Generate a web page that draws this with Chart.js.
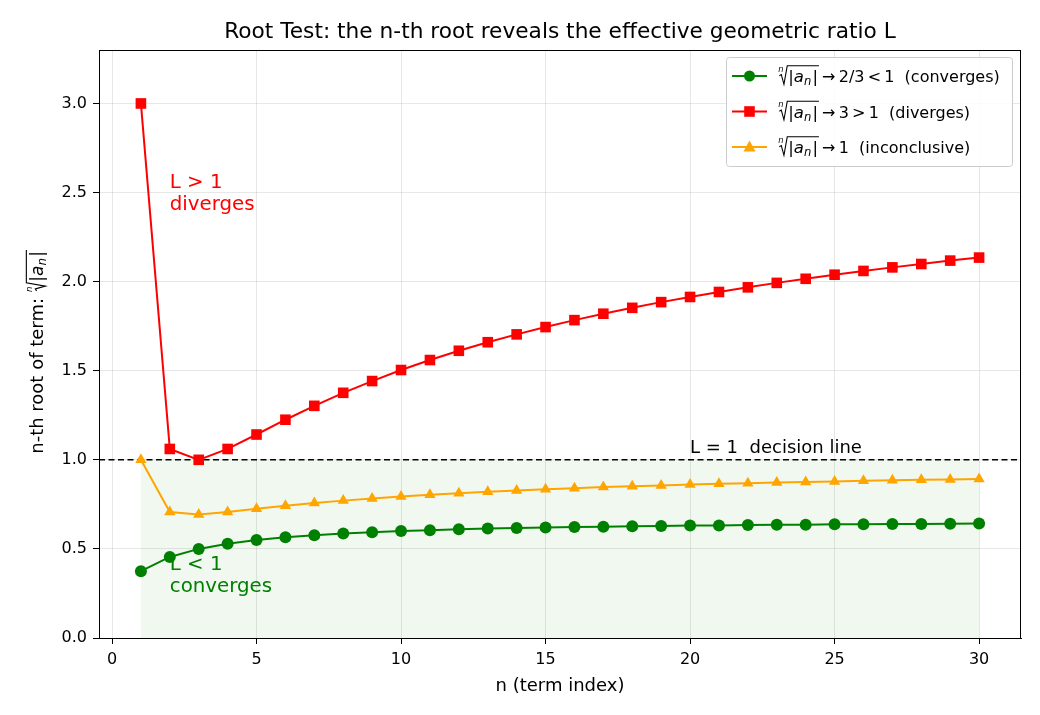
<!DOCTYPE html>
<html>
<head>
<meta charset="utf-8">
<script src="https://cdn.jsdelivr.net/npm/chart.js@4.4.1/dist/chart.umd.min.js"></script>
<style>
html,body{margin:0;padding:0;background:#fff;}
canvas{display:block;}
</style>
</head>
<body>
<canvas id="c" width="1040" height="715"></canvas>
<script>
// ---- data ----
const nTerms = [1,2,3,4,5,6,7,8,9,10,11,12,13,14,15,16,17,18,19,20,21,22,23,24,25,26,27,28,29,30];
const convergesVals = [0.375,0.455,0.500,0.529,0.550,0.565,0.577,0.586,0.594,0.600,0.605,0.610,0.614,0.617,0.620,0.623,0.625,0.627,0.629,0.631,0.632,0.634,0.635,0.636,0.638,0.639,0.640,0.640,0.641,0.642];
const divergesVals = [3.000,1.061,1.000,1.061,1.142,1.225,1.303,1.376,1.442,1.504,1.560,1.612,1.660,1.704,1.745,1.784,1.820,1.853,1.885,1.914,1.942,1.968,1.993,2.016,2.039,2.060,2.080,2.099,2.118,2.135];
const inconclusiveVals = [1.000,0.707,0.693,0.707,0.725,0.742,0.757,0.771,0.783,0.794,0.804,0.813,0.821,0.828,0.835,0.841,0.847,0.852,0.856,0.861,0.865,0.869,0.873,0.876,0.879,0.882,0.885,0.888,0.890,0.893];
const decisionLevel = 1;
const xTickVals = [0,5,10,15,20,25,30];
const yTickVals = [0,0.5,1.0,1.5,2.0,2.5,3.0];
const legendSuffix = ['\u2009\u2192\u20092/3\u2009<\u20091  (converges)', '\u2009\u2192\u20093\u2009>\u20091  (diverges)', '\u2009\u2192\u20091  (inconclusive)'];

const GREEN = '#008000', RED = '#ff0000', ORANGE = '#ffa500';
const FONT = '"DejaVu Sans", sans-serif';

const toXY = arr => nTerms.map((x,i)=>({x, y: arr[i]}));

// draws "n-th root of |a_n|" at baseline (x,y), returns width
function drawRoot(ctx, x, y, fs, color){
  ctx.save();
  ctx.fillStyle = color; ctx.strokeStyle = color;
  ctx.textBaseline = 'alphabetic'; ctx.textAlign = 'left';
  ctx.font = 'italic ' + (fs*0.5) + 'px ' + FONT;
  ctx.fillText('n', x + fs*0.02, y - fs*0.62);
  ctx.font = fs + 'px ' + FONT;
  const wBar = ctx.measureText('|').width;
  ctx.font = 'italic ' + fs + 'px ' + FONT;
  const wA = ctx.measureText('a').width;
  ctx.font = 'italic ' + (fs*0.7) + 'px ' + FONT;
  const wN = ctx.measureText('n').width;
  const cx = x + fs*0.62;
  const contentW = wBar + wA + wN + wBar + fs*0.08;
  ctx.lineWidth = Math.max(1, fs*0.065);
  ctx.beginPath();
  ctx.moveTo(x + fs*0.08, y - fs*0.38);
  ctx.lineTo(x + fs*0.2, y - fs*0.45);
  ctx.lineTo(x + fs*0.36, y + fs*0.14);
  ctx.lineTo(x + fs*0.56, y - fs*0.98);
  ctx.lineTo(cx + contentW + fs*0.05, y - fs*0.98);
  ctx.stroke();
  let px = cx;
  ctx.font = fs + 'px ' + FONT;
  ctx.fillText('|', px, y); px += wBar;
  ctx.font = 'italic ' + fs + 'px ' + FONT;
  ctx.fillText('a', px, y); px += wA;
  ctx.font = 'italic ' + (fs*0.7) + 'px ' + FONT;
  ctx.fillText('n', px, y + fs*0.2); px += wN + fs*0.08;
  ctx.font = fs + 'px ' + FONT;
  ctx.fillText('|', px, y); px += wBar;
  ctx.restore();
  return px - x + fs*0.05;
}

function drawMarker(ctx, style, x, y, color){
  ctx.save();
  ctx.fillStyle = color;
  ctx.beginPath();
  if(style==='circle'){ ctx.arc(x,y,5.5,0,Math.PI*2); }
  else if(style==='rect'){ ctx.rect(x-5.3,y-5.3,10.6,10.6); }
  else { ctx.moveTo(x, y-6.5); ctx.lineTo(x+6,y+4.5); ctx.lineTo(x-6,y+4.5); ctx.closePath(); }
  ctx.fill();
  ctx.restore();
}

const decoPlugin = {
  id: 'deco',
  beforeDatasetsDraw(chart){
    const {ctx, chartArea:a, scales:{x,y}} = chart;
    const yy = y.getPixelForValue(decisionLevel);
    ctx.save();
    ctx.strokeStyle = '#000'; ctx.lineWidth = 1.6; ctx.setLineDash([6,3.5]);
    ctx.beginPath(); ctx.moveTo(a.left, yy); ctx.lineTo(a.right, yy); ctx.stroke();
    ctx.restore();
  },
  afterDraw(chart){
    const {ctx, chartArea:a, scales:{x,y}} = chart;
    ctx.save();
    ctx.strokeStyle = '#000'; ctx.lineWidth = 1;
    ctx.strokeRect(a.left+0.5, a.top+0.5, a.right-a.left-1, a.bottom-a.top);
    ctx.fillStyle = '#000'; ctx.textAlign = 'center'; ctx.textBaseline = 'alphabetic';
    ctx.font = '21.7px ' + FONT;
    ctx.fillText('Root Test: the n-th root reveals the effective geometric ratio L', (a.left+a.right)/2, 38);
    ctx.font = '18px ' + FONT;
    ctx.fillText('n (term index)', (a.left+a.right)/2, 691);
    // y label rotated
    ctx.save();
    ctx.translate(43, (a.top+a.bottom)/2);
    ctx.rotate(-Math.PI/2);
    ctx.font = '18px ' + FONT;
    const t1 = 'n-th root of term: ';
    const w1 = ctx.measureText(t1).width;
    const totalW = w1 + 58;
    ctx.textAlign = 'left';
    ctx.fillText(t1, -totalW/2, 0);
    drawRoot(ctx, -totalW/2 + w1, 0, 17, '#000');
    ctx.restore();
    // annotations
    ctx.textAlign = 'left';
    ctx.font = '19.8px ' + FONT;
    ctx.fillStyle = RED;
    const ax = x.getPixelForValue(2);
    const ry = y.getPixelForValue(2.4);
    ctx.fillText('L > 1', ax, ry - 22);
    ctx.fillText('diverges', ax, ry);
    ctx.fillStyle = GREEN;
    const gy = y.getPixelForValue(0.26);
    ctx.fillText('L < 1', ax, gy - 22);
    ctx.fillText('converges', ax, gy);
    ctx.fillStyle = '#000';
    ctx.font = '18px ' + FONT;
    ctx.fillText('L = 1  decision line', x.getPixelForValue(20), y.getPixelForValue(decisionLevel) - 7);
    // legend
    const lx = 726, ly = 57, lw = 286, lh = 109;
    ctx.fillStyle = 'rgba(255,255,255,0.85)';
    ctx.strokeStyle = '#cccccc'; ctx.lineWidth = 1;
    ctx.beginPath();
    if (ctx.roundRect) ctx.roundRect(lx+0.5, ly+0.5, lw, lh, 3); else ctx.rect(lx+0.5, ly+0.5, lw, lh);
    ctx.fill(); ctx.stroke();
    const items = [[GREEN,'circle'],[RED,'rect'],[ORANGE,'triangle']];
    items.forEach((it,i)=>{
      const cy = 76 + i*35.5;
      ctx.strokeStyle = it[0]; ctx.lineWidth = 2;
      ctx.beginPath(); ctx.moveTo(732, cy); ctx.lineTo(767, cy); ctx.stroke();
      drawMarker(ctx, it[1], 749.5, cy, it[0]);
      const bx = 778, by = cy + 6;
      const w = drawRoot(ctx, bx, by, 16.5, '#000');
      ctx.fillStyle = '#000'; ctx.font = '16px ' + FONT; ctx.textAlign = 'left';
      ctx.fillText(legendSuffix[i], bx + w, by);
    });
    ctx.restore();
  }
};

const tickFont = {family: FONT, size: 16};

new Chart(document.getElementById('c'), {
  type: 'line',
  data: {
    datasets: [
      { label: 'fill', data: nTerms.map(x=>({x, y: decisionLevel})), fill: 'origin',
        backgroundColor: 'rgba(0,128,0,0.06)', borderWidth: 0, pointRadius: 0, order: 10 },
      { label: 'converges', data: toXY(convergesVals), borderColor: GREEN, backgroundColor: GREEN,
        borderWidth: 2, pointStyle: 'circle', pointRadius: 6, pointBorderWidth: 0, order: 3 },
      { label: 'diverges', data: toXY(divergesVals), borderColor: RED, backgroundColor: RED,
        borderWidth: 2, pointStyle: 'rect', pointRadius: 7.5, pointBorderWidth: 0, order: 2 },
      { label: 'inconclusive', data: toXY(inconclusiveVals), borderColor: ORANGE, backgroundColor: ORANGE,
        borderWidth: 2, pointStyle: 'triangle', pointRadius: 6.5, pointBorderWidth: 0, order: 1 }
    ]
  },
  options: {
    responsive: false,
    animation: false,
    layout: { padding: { top: 50, right: 19, left: 0, bottom: 0 } },
    plugins: { legend: { display: false }, tooltip: { enabled: false }, title: { display: false } },
    elements: { line: { tension: 0 } },
    scales: {
      x: {
        type: 'linear', min: -0.45, max: 31.45,
        afterBuildTicks: s => { s.ticks = xTickVals.map(v=>({value: v})); },
        afterFit: s => { s.height = 77; },
        ticks: { font: tickFont, color: '#000', padding: 6, maxRotation: 0, callback: v => String(v) },
        grid: { color: 'rgba(176,176,176,0.3)', lineWidth: 1, tickColor: '#000', tickLength: 6, tickWidth: 1 },
        border: { display: true, color: '#000', width: 1 }
      },
      y: {
        type: 'linear', min: 0, max: 3.3,
        afterBuildTicks: s => { s.ticks = yTickVals.map(v=>({value: v})); },
        afterFit: s => { s.width = 99; },
        ticks: { font: tickFont, color: '#000', padding: 6, callback: v => Number(v).toFixed(1) },
        grid: { color: 'rgba(176,176,176,0.3)', lineWidth: 1, tickColor: '#000', tickLength: 6, tickWidth: 1 },
        border: { display: true, color: '#000', width: 1 }
      }
    }
  },
  plugins: [decoPlugin]
});
</script>
</body>
</html>
